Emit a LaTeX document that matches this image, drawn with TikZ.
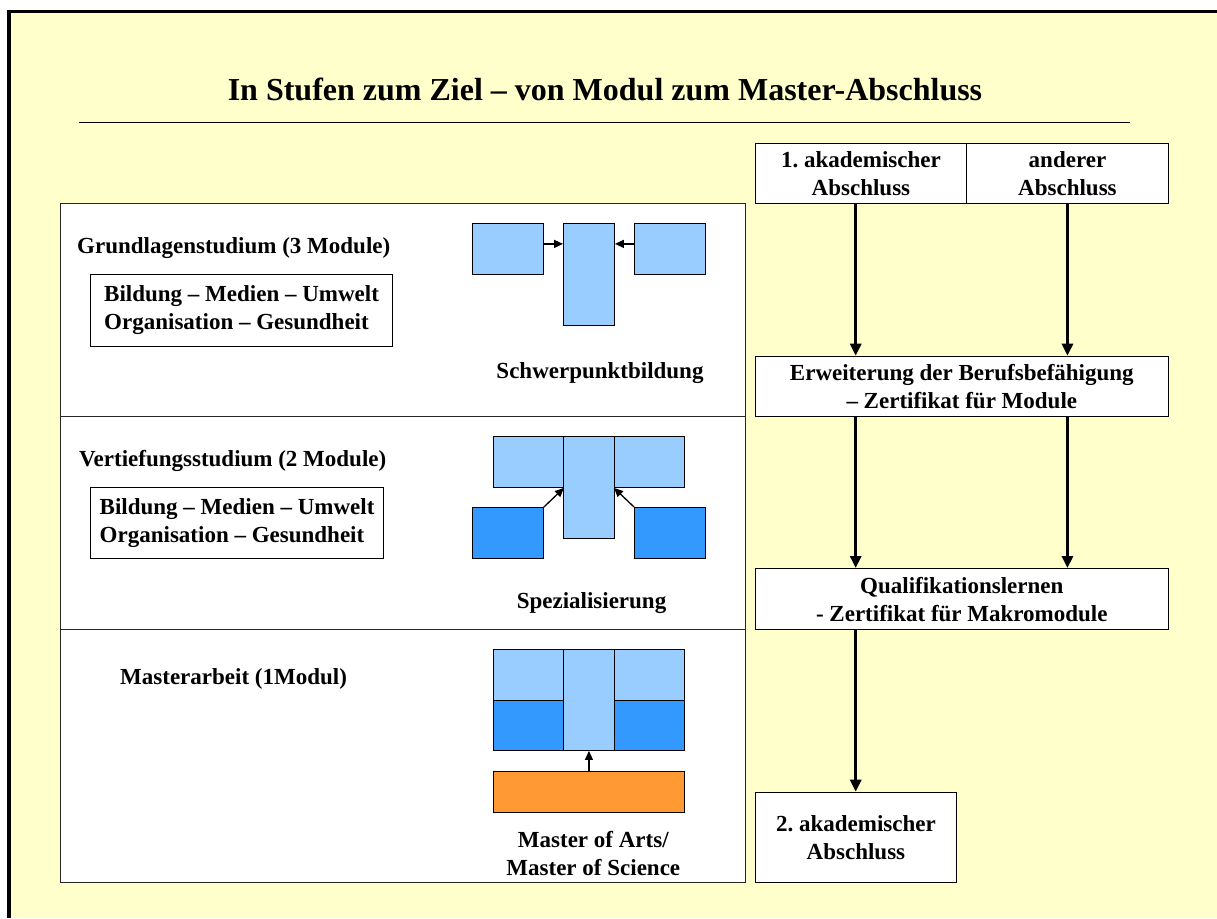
\documentclass[tikz,border=0pt]{standalone}
\usepackage{fontspec}
\setmainfont{Liberation Serif}
\usetikzlibrary{arrows.meta,calc}
\definecolor{bgyellow}{HTML}{FFFFCC}
\definecolor{lblue}{HTML}{99CCFF}
\definecolor{dblue}{HTML}{3399FF}
\definecolor{orng}{HTML}{FF9933}
\frenchspacing
\begin{document}
\begin{tikzpicture}[x=1pt,y=-1pt,
  panel/.style={draw=black!85, line width=1.2pt, fill=white, anchor=north west, inner sep=0pt},
  rbox/.style={draw, line width=1.2pt, fill=white, anchor=north west, inner sep=0pt, align=center, font=\bfseries\fontsize{23}{28}\selectfont},
  tbox/.style={draw, line width=1.2pt, fill=white, anchor=north west, inner sep=0pt, align=left, font=\bfseries\fontsize{23}{28}\selectfont},
  lbl/.style={anchor=base west, inner sep=0pt, font=\bfseries\fontsize{23}{28}\selectfont},
  captext/.style={anchor=base, inner sep=0pt, font=\bfseries\fontsize{23}{28}\selectfont},
  blk/.style={draw, line width=0.9pt, anchor=north west, inner sep=0pt},
  bigarrow/.style={line width=3.4pt, -{Triangle[width=11pt,length=12pt]}},
  sarrow/.style={line width=1.3pt, -{Triangle[width=8pt,length=9pt]}}
]
\useasboundingbox (0,0) rectangle (1217,918);
\fill[white] (0,0) rectangle (1217,918);
\fill[bgyellow] (9,11.3) rectangle (1217,918);
\draw[line width=3.4pt] (9,918) -- (9,11.3) -- (1217,11.3);

% title
\node[anchor=base, inner sep=0pt, font=\bfseries\fontsize{32}{38}\selectfont] (title) at (605,100) {In Stufen zum Ziel – von Modul zum Master-Abschluss};
\draw[line width=1pt] (79,122) -- (1130,122);

% left panels
\node[panel, minimum width=685, minimum height=213] (p1) at (60,203) {};
\node[panel, minimum width=685, minimum height=213] (p2) at (60,416) {};
\node[panel, minimum width=685, minimum height=253] (p3) at (60,629) {};

\node[lbl] (g0) at (77,253) {Grundlagenstudium (3 Module)};
\node[tbox, minimum width=302, minimum height=71.7] (g1) at (90,274) {Bildung – Medien – Umwelt\\Organisation – Gesundheit};
\node[lbl] (v0) at (79,466) {Vertiefungsstudium (2 Module)};
\node[tbox, minimum width=293, minimum height=71] (v1) at (90,487) {Bildung – Medien – Umwelt\\Organisation – Gesundheit};
\node[lbl] (m0) at (120,684) {Masterarbeit (1Modul)};

% section 1 graphic
\node[blk, fill=lblue, minimum width=71, minimum height=51] (a1) at (472,223) {};
\node[blk, fill=lblue, minimum width=51, minimum height=102] (a2) at (563,223) {};
\node[blk, fill=lblue, minimum width=71, minimum height=51] (a3) at (634,223) {};
\draw[sarrow] (a1.8) -- (a2.west |- a1.8);
\draw[sarrow] (a3.172) -- (a2.east |- a3.172);
\node[captext] (s1) at (600,378) {Schwerpunktbildung};

% section 2 graphic
\node[blk, fill=lblue, minimum width=70, minimum height=51] (b1) at (493,436) {};
\node[blk, fill=lblue, minimum width=70, minimum height=51] (b3) at (614,436) {};
\node[blk, fill=lblue, minimum width=51, minimum height=102] (b2) at (563,436) {};
\node[blk, fill=dblue, minimum width=71, minimum height=51] (d1) at (472,507) {};
\node[blk, fill=dblue, minimum width=71, minimum height=51] (d3) at (634,507) {};
\draw[sarrow] (d1.north east) -- (b1.south east);
\draw[sarrow] (d3.north west) -- (b3.south west);
\node[captext] (s2) at (591.5,608) {Spezialisierung};

% section 3 graphic
\node[blk, fill=lblue, minimum width=70, minimum height=51] (c1) at (493,649) {};
\node[blk, fill=dblue, minimum width=70, minimum height=50] (e1) at (493,700) {};
\node[blk, fill=lblue, minimum width=70, minimum height=51] (c3) at (614,649) {};
\node[blk, fill=dblue, minimum width=70, minimum height=50] (e3) at (614,700) {};
\node[blk, fill=lblue, minimum width=51, minimum height=101] (c2) at (563,649) {};
\node[blk, fill=orng, minimum width=191, minimum height=41] (o1) at (493,771) {};
\draw[sarrow] (o1.north) -- (c2.south);
\node[captext] (s3a) at (593.3,847) {Master of Arts/};
\node[captext] (s3b) at (593.3,875) {Master of Science};

% right column
\node[rbox, minimum width=211.3, minimum height=60.3] (r1a) at (754.7,142.7) {1. akademischer\\Abschluss};
\node[rbox, minimum width=201.7, minimum height=60.3] (r1b) at (966,142.7) {anderer\\Abschluss};
\node[rbox, minimum width=413, minimum height=60.3] (erw) at (754.7,355.7) {Erweiterung der Berufsbefähigung\\– Zertifikat für Module};
\node[rbox, minimum width=413, minimum height=61] (qual) at (754.7,568) {Qualifikationslernen\\- Zertifikat für Makromodule};
\node[rbox, minimum width=201.3, minimum height=90.3] (r2) at (754.7,791.7) {2. akademischer\\Abschluss};

\coordinate (lx) at (855.7,0);
\draw[bigarrow] (r1a.south -| lx) -- (erw.north -| lx);
\draw[bigarrow] (r1b.south) -- (erw.north -| r1b.south);
\draw[bigarrow] (erw.south -| lx) -- (qual.north -| lx);
\draw[bigarrow] (erw.south -| r1b.south) -- (qual.north -| r1b.south);
\draw[bigarrow] (qual.south -| lx) -- (r2.north -| lx);
\end{tikzpicture}
\end{document}
